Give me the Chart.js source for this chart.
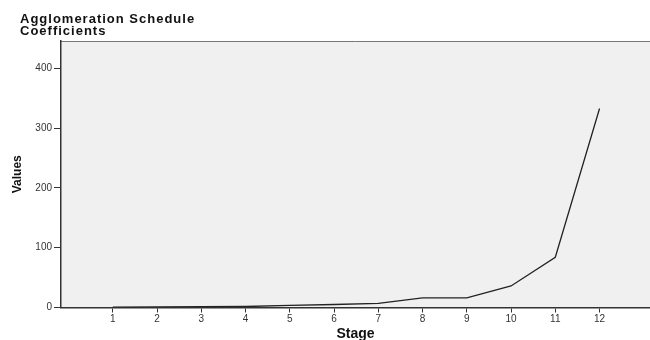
<!DOCTYPE html>
<html>
<head>
<meta charset="utf-8">
<script src="https://cdn.jsdelivr.net/npm/chart.js@4"></script>
<style>
  body { margin: 0; background: #fff; }
  #wrap { position: relative; width: 650px; height: 340px; }
  #title {
    position: absolute; left: 20px; top: 13px;
    font: bold 13px "Liberation Sans", Arial, sans-serif;
    letter-spacing: 1px; line-height: 12px; color: #111;
  }
</style>
</head>
<body>
<div id="wrap">
  <div id="title">Agglomeration Schedule<br>Coefficients</div>
  <canvas id="chart" width="650" height="340"></canvas>
</div>
<script>
// Agglomeration schedule coefficients by stage
const stages = [1, 2, 3, 4, 5, 6, 7, 8, 9, 10, 11, 12];
const coefficients = [0.5, 1, 1.3, 1.7, 3.5, 5, 7, 16, 16, 36, 84, 333];
const yTicks = [0, 100, 200, 300, 400];

const plotBackground = {
  id: 'plotBackground',
  beforeDraw(chart) {
    const { ctx, chartArea: a } = chart;
    ctx.save();
    ctx.fillStyle = '#f0f0f0';
    ctx.fillRect(a.left, a.top, a.right - a.left, a.bottom - a.top);
    ctx.strokeStyle = '#777';
    ctx.lineWidth = 1;
    ctx.beginPath();
    ctx.moveTo(a.left, a.top + 0.5);
    ctx.lineTo(a.right, a.top + 0.5);
    ctx.stroke();
    ctx.restore();
  }
};

const ctx = document.getElementById('chart').getContext('2d');
new Chart(ctx, {
  type: 'line',
  data: {
    datasets: [{
      data: stages.map((s, i) => ({ x: s, y: coefficients[i] })),
      borderColor: '#222',
      borderWidth: 1.3,
      pointRadius: 0,
      tension: 0
    }]
  },
  options: {
    responsive: false,
    animation: false,
    layout: { padding: { top: 41, left: 0, right: 0, bottom: 0 } },
    plugins: {
      legend: { display: false },
      tooltip: { enabled: false }
    },
    scales: {
      x: {
        type: 'linear',
        min: -0.17,
        max: 13.14,
        afterBuildTicks(axis) { axis.ticks = stages.map(v => ({ value: v })); },
        afterFit(axis) { axis.height = 32.5; },
        grid: { drawOnChartArea: false, drawTicks: true, tickLength: 5, color: '#333' },
        border: { display: true, color: '#333', width: 1.5 },
        ticks: {
          color: '#333', padding: 1, maxRotation: 0, autoSkip: false,
          font: { family: '"Liberation Sans", Arial, sans-serif', size: 10 }
        },
        title: {
          display: true, text: 'Stage', color: '#111', padding: { top: 3, bottom: -3 },
          font: { family: '"Liberation Sans", Arial, sans-serif', size: 14, weight: 'bold' }
        }
      },
      y: {
        min: 0,
        max: 446,
        afterBuildTicks(axis) { axis.ticks = yTicks.map(v => ({ value: v })); },
        afterFit(axis) { axis.width = 61; },
        grid: { drawOnChartArea: false, drawTicks: true, tickLength: 7, color: '#333' },
        border: { display: true, color: '#333', width: 1.5 },
        ticks: {
          color: '#333', padding: 2,
          font: { family: '"Liberation Sans", Arial, sans-serif', size: 10 }
        },
        title: {
          display: true, text: 'Values', color: '#111', padding: { top: 10, bottom: 0 },
          font: { family: '"Liberation Sans Narrow", "Arial Narrow", "Liberation Sans", sans-serif', size: 12, weight: 'bold' }
        }
      }
    }
  },
  plugins: [plotBackground]
});
</script>
</body>
</html>
